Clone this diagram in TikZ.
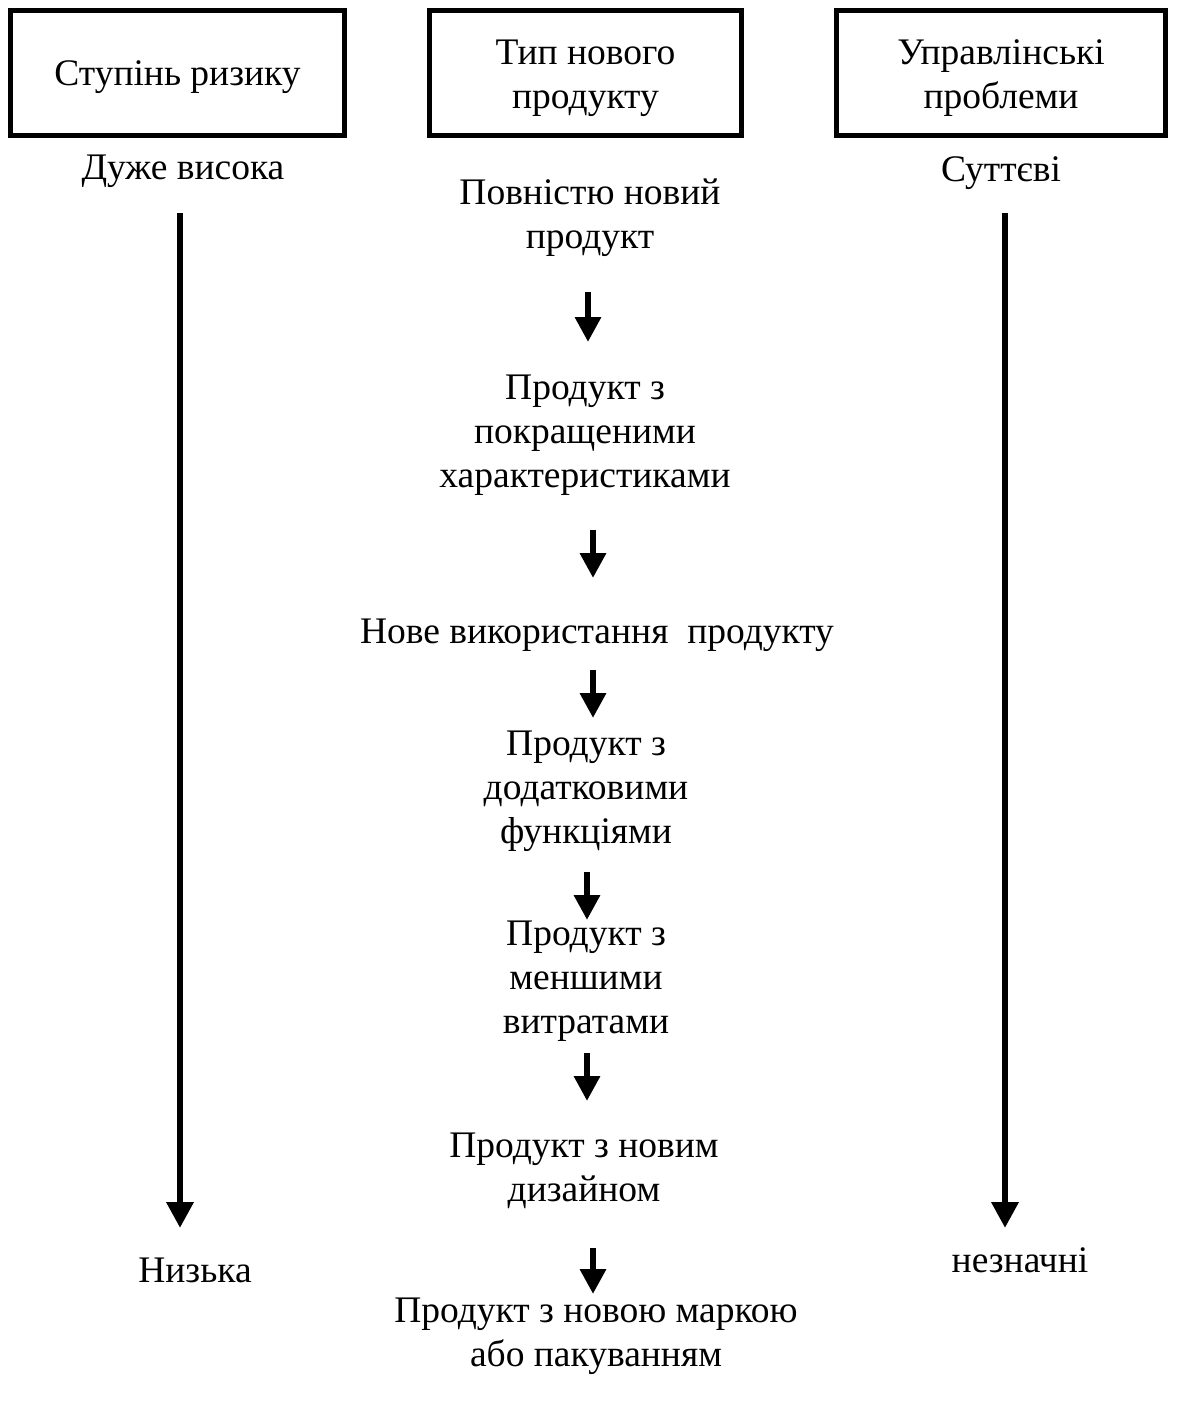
\documentclass[tikz,border=0pt]{standalone}
\usepackage{fontspec}
\setmainfont{Liberation Serif}
\usetikzlibrary{arrows.meta}
\begin{document}
\begin{tikzpicture}[x=1pt,y=-1pt,
  hbox/.style={draw,line width=5pt,minimum height=125pt,inner sep=0pt},
  lbl/.style={align=center,inner sep=0pt},
  bigarrow/.style={line width=6.5pt,-{Triangle[width=26pt,length=26pt]}},
  smallarrow/.style={line width=6.5pt,-{Triangle[width=25pt,length=25pt]}},
  every node/.style={font=\fontsize{37.5}{44}\selectfont}]
\useasboundingbox (0,0) rectangle (1176,1406);
% header boxes
\node[hbox,minimum width=334pt,label={[lbl,yshift=-4pt]center:Ступінь ризику}] (h1) at (177.5,73) {};
\node[hbox,minimum width=312pt,label={[lbl,yshift=-5pt]center:Тип нового\\продукту}] (h2) at (585.5,73) {};
\node[hbox,minimum width=329pt,label={[lbl,yshift=-5pt]center:Управлінські\\проблеми}] (h3) at (1001,73) {};
% side labels
\node[lbl] (high) at (183,171) {Дуже висока};
\node[lbl] (low) at (195,1270) {Низька};
\node[lbl] (sig) at (1001,173) {Суттєві};
\node[lbl] (ins) at (1020,1260) {незначні};
% middle column
\node[lbl] (t1) at (590,218) {Повністю новий\\продукт};
\node[lbl] (t2) at (585,435) {Продукт з\\покращеними\\характеристиками};
\node[lbl] (t3) at (597,635) {Нове використання\ \ продукту};
\node[lbl] (t4) at (586,791) {Продукт з\\додатковими\\функціями};
\node[lbl] (t5) at (586,981) {Продукт з\\меншими\\витратами};
\node[lbl] (t6) at (584,1171) {Продукт з новим\\дизайном};
\node[lbl] (t7) at (596,1336) {Продукт з новою маркою\\або пакуванням};
% long arrows
\coordinate (la1) at (180,213);
\coordinate (la2) at (180,1228);
\coordinate (ra1) at (1005,213);
\coordinate (ra2) at (1005,1228);
\draw[bigarrow] (la1) -- (la2);
\draw[bigarrow] (ra1) -- (ra2);
% small arrows
\coordinate (a1s) at (588,292); \coordinate (a1e) at (588,342);
\coordinate (a2s) at (593,530); \coordinate (a2e) at (593,578);
\coordinate (a3s) at (593,670); \coordinate (a3e) at (593,718);
\coordinate (a4s) at (587,872); \coordinate (a4e) at (587,920);
\coordinate (a5s) at (587,1053); \coordinate (a5e) at (587,1101);
\coordinate (a6s) at (593,1248); \coordinate (a6e) at (593,1294);
\foreach \i in {1,...,6} \draw[smallarrow] (a\i s) -- (a\i e);
\end{tikzpicture}
\end{document}
